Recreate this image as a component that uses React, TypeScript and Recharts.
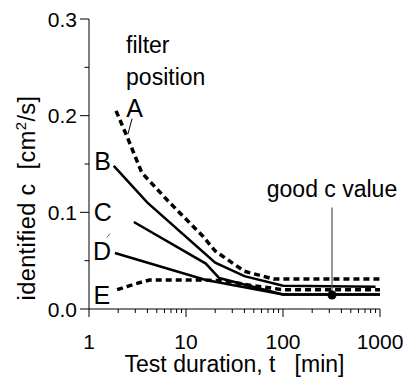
import React from 'react';
import { LineChart, XAxis, YAxis, Line, ReferenceLine, ReferenceDot, Scatter } from 'recharts';

// test duration t [min] / identified c [cm2/s]
const seriesA = [
    { t: 1.9, c: 0.205 }, { t: 2.5, c: 0.177 }, { t: 3.5, c: 0.141 }, { t: 6.5, c: 0.112 },
    { t: 15, c: 0.075 }, { t: 20, c: 0.06 }, { t: 40, c: 0.039 }, { t: 80, c: 0.031 }, { t: 1000, c: 0.031 },
];
const seriesB = [
    { t: 1.8, c: 0.148 }, { t: 4, c: 0.11 }, { t: 20, c: 0.048 }, { t: 40, c: 0.034 },
    { t: 100, c: 0.024 }, { t: 900, c: 0.023 },
];
const seriesC = [
    { t: 2.9, c: 0.09 }, { t: 16, c: 0.047 }, { t: 22, c: 0.032 }, { t: 100, c: 0.015 }, { t: 1000, c: 0.015 },
];
const seriesD = [
    { t: 1.85, c: 0.058 }, { t: 16, c: 0.03 }, { t: 100, c: 0.015 }, { t: 1000, c: 0.015 },
];
const seriesE = [
    { t: 1.95, c: 0.02 }, { t: 3, c: 0.026 }, { t: 4.2, c: 0.03 }, { t: 15, c: 0.03 },
    { t: 25, c: 0.029 }, { t: 50, c: 0.024 }, { t: 100, c: 0.02 }, { t: 1000, c: 0.02 },
];
const goodC = [{ t: 320, c: 0.0145 }];
const goodCTop = 0.105;

const xTicks = [1, 2, 3, 4, 5, 6, 7, 8, 9, 10, 20, 30, 40, 50, 60, 70, 80, 90, 100, 200, 300, 400, 500, 600, 700, 800, 900, 1000];
const yTicks = [0, 0.05, 0.1, 0.15, 0.2, 0.25, 0.3];

// letter labels: [text, t, c]
const letterLabels: [string, number, number][] = [
    ['A', 2.95, 0.2077], ['B', 1.38, 0.1526], ['C', 1.39, 0.1], ['D', 1.36, 0.0598], ['E', 1.36, 0.015],
];
const FONT = '"Liberation Sans", Arial, sans-serif';
const INK = '#000';

const isMajor = (v: number) => Math.abs(Math.log10(v) - Math.round(Math.log10(v))) < 1e-9;

const XTick = (props: any) => {
    const { x, y, payload } = props;
    const major = isMajor(payload.value);
    return (
        <g>
            <line x1={x} y1={y} x2={x} y2={y + (major ? 8 : 4)} stroke={INK} strokeWidth={1} />
            {major && <text x={x} y={y + 40} textAnchor="middle" fontSize={21} fontFamily={FONT} fill={INK}>{payload.value}</text>}
        </g>
    );
};

const YTick = (props: any) => {
    const { x, y, payload } = props;
    const major = Math.abs(payload.value * 10 - Math.round(payload.value * 10)) < 1e-9;
    return (
        <g>
            <line x1={x} y1={y} x2={x - (major ? 9 : 4.5)} y2={y} stroke={INK} strokeWidth={1} />
            {major && <text x={x - 12} y={y + 7.5} textAnchor="end" fontSize={21} fontFamily={FONT} fill={INK}>{payload.value.toFixed(1)}</text>}
        </g>
    );
};

const YTitle = (props: any) => {
    const { viewBox } = props;
    const cx = viewBox.x + 35;
    const cy = viewBox.y + viewBox.height / 2 + 34;
    return (
        <text x={cx} y={cy} transform={`rotate(-90 ${cx} ${cy})`} textAnchor="middle" fontSize={23.5} letterSpacing={0.4} fontFamily={FONT} fill={INK} style={{ whiteSpace: 'pre' }}>
            identified c  [cm<tspan fontSize={15} dy={-9}>2</tspan><tspan dy={9}>/s]</tspan>
        </text>
    );
};

const XTitle = (props: any) => {
    const { viewBox } = props;
    const cx = viewBox.x + viewBox.width / 2;
    return (
        <text x={cx} y={viewBox.y + 63} textAnchor="middle" fontSize={23} fontFamily={FONT} fill={INK} style={{ whiteSpace: 'pre' }}>
            Test duration, t   [min]
        </text>
    );
};

const textShape = (txt: string, anchor: string, dy: number, size = 23) => (p: any) => (
    <text x={p.cx} y={p.cy + dy} textAnchor={anchor} fontSize={size} fontFamily={FONT} fill={INK}>{txt}</text>
);

const App: React.FC = () => {
    return (
        <div style={{ position: 'absolute', left: 0, top: 0, background: '#fff' }}>
            <LineChart width={406} height={378} margin={{ top: 19, right: 26, left: 0, bottom: 0 }}>
                <XAxis dataKey="t" type="number" scale="log" domain={[1, 1000]} ticks={xTicks} interval={0}
                    allowDataOverflow height={69} tickSize={0} tickMargin={0} tickLine={false}
                    stroke={INK} tick={<XTick />} label={<XTitle />} />
                <YAxis type="number" domain={[0, 0.3]} ticks={yTicks} interval={0} width={89}
                    tickSize={0} tickMargin={0} tickLine={false} stroke={INK} tick={<YTick />} label={<YTitle />} />

                {/* series */}
                <Line data={seriesA} dataKey="c" stroke={INK} strokeWidth={3.5} strokeDasharray="6 4" dot={false} isAnimationActive={false} />
                <Line data={seriesB} dataKey="c" stroke={INK} strokeWidth={2.5} dot={false} isAnimationActive={false} />
                <Line data={seriesC} dataKey="c" stroke={INK} strokeWidth={2.5} dot={false} isAnimationActive={false} />
                <Line data={seriesD} dataKey="c" stroke={INK} strokeWidth={2.5} dot={false} isAnimationActive={false} />
                <Line data={seriesE} dataKey="c" stroke={INK} strokeWidth={3.5} strokeDasharray="6 4" dot={false} isAnimationActive={false} />

                {/* good c value */}
                <ReferenceLine segment={[{ x: goodC[0].t, y: goodC[0].c }, { x: goodC[0].t, y: goodCTop }]} stroke="#555" strokeWidth={1.2} />
                <Scatter data={goodC} dataKey="c" fill={INK} shape="circle" isAnimationActive={false} />
                <ReferenceDot x={goodC[0].t} y={0.123} r={0} shape={textShape('good c value', 'middle', 7)} />

                {/* labels */}
                <ReferenceDot x={2.41} y={0.272} r={0} shape={textShape('filter', 'start', 7)} />
                <ReferenceDot x={2.41} y={0.239} r={0} shape={textShape('position', 'start', 7)} />
                {letterLabels.map(([txt, t, c]) => (
                    <ReferenceDot key={txt} x={t} y={c} r={0} shape={textShape(txt, 'middle', 9, 25)} />
                ))}
                <ReferenceLine segment={[{ x: 2.78, y: 0.197 }, { x: 2.52, y: 0.181 }]} stroke={INK} strokeWidth={1} />
                <ReferenceLine segment={[{ x: 1.53, y: 0.074 }, { x: 1.65, y: 0.078 }]} stroke="#666" strokeWidth={1} />
            </LineChart>
        </div>
    );
};
export default App;
